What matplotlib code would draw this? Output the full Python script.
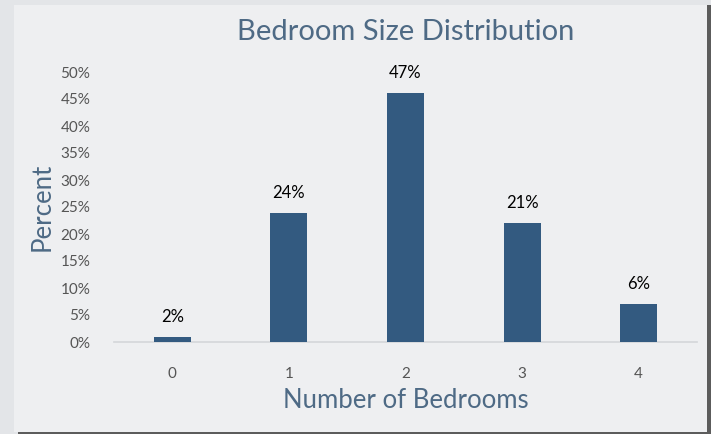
import matplotlib.pyplot as plt
from matplotlib.patches import Rectangle

# data
bedrooms = ['0', '1', '2', '3', '4']
percent = [0.9, 23.9, 46.1, 22.0, 7.0]  # bar heights as drawn
bar_labels = ['2%', '24%', '47%', '21%', '6%']  # labels as printed
y_ticks = [0, 5, 10, 15, 20, 25, 30, 35, 40, 45, 50]

BAR_COLOR = '#335a80'
SLATE = '#4e6a85'
TICK_GREY = '#555555'
W, H = 711, 434

plt.rcParams['font.family'] = ['Lato', 'DejaVu Sans']

fig = plt.figure(figsize=(W / 100, H / 100), dpi=100)
fig.patch.set_facecolor('#e3e5e8')

# panel with a dark shadow on the right and bottom
fig.patches.append(Rectangle((18 / W, 0), 693 / W, 429 / H, transform=fig.transFigure,
                             facecolor='#5c5c5c', edgecolor='none', zorder=-2))
fig.patches.append(Rectangle((14 / W, 2 / H), 693 / W, 427 / H, transform=fig.transFigure,
                             facecolor='#eeeff1', edgecolor='none', zorder=-1))

# axes: x from 114 to 697 px, 0% at y=342, 50% at y=72
ax = fig.add_axes([114 / W, (H - 342) / H, 583 / W, 270 / H])
ax.set_zorder(2)
ax.set_facecolor('none')

x = list(range(len(bedrooms)))
bars = ax.bar(x, percent, width=0.317, color=BAR_COLOR, zorder=3)
for b, lab in zip(bars, bar_labels):
    ax.text(b.get_x() + b.get_width() / 2, b.get_height() + 2.3, lab,
            ha='center', va='bottom', fontsize=12, color='black', clip_on=False)

ax.set_xlim(-0.5, 4.5)
ax.set_ylim(0, 50)
ax.set_xticks(x)
ax.set_xticklabels(bedrooms)
ax.set_yticks(y_ticks)
ax.set_yticklabels([f"{v}%" for v in y_ticks])
ax.tick_params(axis='both', length=0, labelsize=11, labelcolor=TICK_GREY)
ax.tick_params(axis='x', pad=18)
ax.tick_params(axis='y', pad=17)

for side in ['top', 'right', 'left']:
    ax.spines[side].set_visible(False)
ax.spines['bottom'].set_color('#d4d6d9')
ax.spines['bottom'].set_linewidth(1.2)

fig.text(405.5 / W, 1 - 32 / H, 'Bedroom Size Distribution', ha='center', va='center',
         fontsize=21, color=SLATE, zorder=3)
fig.text(405.5 / W, 1 - 401 / H, 'Number of Bedrooms', ha='center', va='center',
         fontsize=18.5, color=SLATE, zorder=3)
fig.text(42 / W, 1 - 207 / H, 'Percent', ha='center', va='center', rotation=90,
         fontsize=18.5, color=SLATE, zorder=3)

fig.savefig('out.png', dpi=100, facecolor=fig.get_facecolor())
